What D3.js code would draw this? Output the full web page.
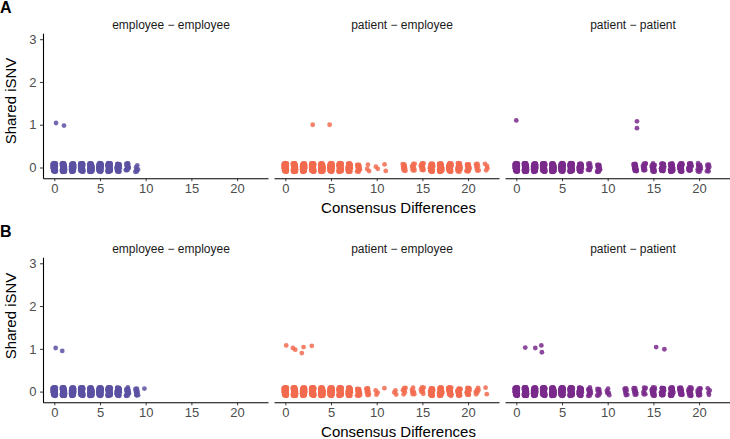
<!DOCTYPE html>
<html>
<head>
<meta charset="utf-8">
<script src="https://cdn.jsdelivr.net/npm/d3@7"></script>
<style>
  body { margin: 0; background: #fff; }
  svg { font-family: "Liberation Sans", Arial, sans-serif; }
  .axis path, .axis line { stroke: #000; }
  .axis line { stroke: #333; }
  .axis text { fill: #4d4d4d; font-size: 13px; }
</style>
</head>
<body>
<svg width="730" height="439"></svg>
<script>
// facets + colours
var facets = ["employee \u2212 employee", "patient \u2212 employee", "patient \u2212 patient"];
var facetColors = ["#5b51a2", "#f26b4f", "#792a8b"];
var xTicks = [0, 5, 10, 15, 20];
var yTicks = [0, 1, 2, 3];

// consensus differences (x) and number of pairs with 0 shared iSNV at each
var consensusDiff = [0, 1, 2, 3, 4, 5, 6, 7, 8, 9, 10, 11, 12, 13, 14, 15, 16, 17, 18, 19, 20, 21, 22];

var zeroA_empEmp = [70, 70, 70, 70, 70, 70, 70, 36, 12, 6, 0, 0, 0, 0, 0, 0, 0, 0, 0, 0, 0, 0, 0];
var zeroA_patEmp = [70, 70, 70, 70, 70, 70, 70, 50, 14, 3, 2, 2, 0, 10, 8, 12, 40, 50, 50, 24, 16, 7, 4];
var zeroA_patPat = [70, 70, 70, 70, 70, 70, 70, 40, 9, 14, 0, 0, 0, 22, 12, 18, 30, 45, 40, 20, 15, 7, 0];

var zeroB_empEmp = [70, 70, 70, 70, 70, 70, 70, 45, 16, 9, 1, 0, 0, 0, 0, 0, 0, 0, 0, 0, 0, 0, 0];
var zeroB_patEmp = [70, 70, 70, 70, 70, 70, 70, 50, 16, 9, 3, 1, 3, 6, 6, 7, 30, 40, 34, 20, 13, 6, 2];
var zeroB_patPat = [70, 70, 70, 70, 70, 70, 70, 45, 12, 7, 5, 0, 7, 9, 6, 22, 26, 34, 22, 20, 13, 4, 0];

// points with shared iSNV > 0, [consensus diff, shared iSNV] as plotted (jittered)
var sharedA_empEmp = [[0.19, 1.04], [1.06, 0.98]];
var sharedA_patEmp = [[3.0, 1.0], [4.85, 1.0]];
var sharedA_patPat = [[0.0, 1.1], [13.2, 1.08], [13.2, 0.92]];

var sharedB_empEmp = [[0.15, 1.02], [0.87, 0.95]];
var sharedB_patEmp = [[0.1, 1.08], [0.83, 1.02], [1.09, 0.98], [1.81, 0.9], [2.0, 1.04], [2.9, 1.07]];
var sharedB_patPat = [[0.98, 1.03], [2.08, 1.02], [2.74, 1.08], [2.8, 0.92], [15.3, 1.04], [16.2, 0.99]];

var rows = [
  { label: "A", top: 33.2, zero: [zeroA_empEmp, zeroA_patEmp, zeroA_patPat], shared: [sharedA_empEmp, sharedA_patEmp, sharedA_patPat], titleY: 101 },
  { label: "B", top: 257.3, zero: [zeroB_empEmp, zeroB_patEmp, zeroB_patPat], shared: [sharedB_empEmp, sharedB_patEmp, sharedB_patPat], titleY: 316 }
];

var svg = d3.select("svg");
var panelLeft = 43, panelW = 225, panelGap = 6, panelH = 145;

var x = d3.scaleLinear().domain([-1.236, 23.38]).range([0, panelW]);
var y = d3.scaleLinear().domain([-0.25, 3.14]).range([panelH, 0]);

// deterministic jitter offsets (like geom_jitter), in [-0.5, 0.5)
function jit(k, a) { return ((k * a + 0.37) % 1) - 0.5; }

rows.forEach(function(row, r) {
  // panel tag
  svg.append("text")
    .attr("x", 0)
    .attr("y", row.top - 20.5)
    .attr("font-size", "16px")
    .attr("font-weight", "bold")
    .attr("fill", "#000")
    .text(row.label);

  facets.forEach(function(name, f) {
    var g = svg.append("g")
      .attr("transform", "translate(" + (panelLeft + f * (panelW + panelGap)) + "," + row.top + ")");

    // strip label
    g.append("text")
      .attr("x", 128)
      .attr("y", -4.5)
      .attr("text-anchor", "middle")
      .attr("font-size", "12px")
      .attr("fill", "#1a1a1a")
      .text(name);

    // jittered points at 0 shared iSNV
    var pts = [];
    var k = 0;
    consensusDiff.forEach(function(cd, i) {
      for (var n = 0; n < row.zero[f][i]; n++) {
        k++;
        pts.push([cd + 0.34 * jit(k, 0.6180339), 0.2 * jit(k, 0.7548776)]);
      }
    });
    row.shared[f].forEach(function(p) { pts.push(p); });

    g.append("g").selectAll("circle")
      .data(pts)
      .enter().append("circle")
      .attr("cx", function(d) { return x(d[0]); })
      .attr("cy", function(d) { return y(d[1]); })
      .attr("r", 2.4)
      .attr("fill", facetColors[f])
      .attr("fill-opacity", 0.85);

    // x axis
    g.append("g")
      .attr("class", "axis")
      .attr("transform", "translate(0," + panelH + ")")
      .call(d3.axisBottom(x).tickValues(xTicks).tickSize(3).tickPadding(2.5).tickSizeOuter(0))
      .call(function(a) { a.select(".domain").attr("stroke-width", 1.1); });

    // y axis only on the first facet
    if (f === 0) {
      g.append("g")
        .attr("class", "axis")
        .call(d3.axisLeft(y).tickValues(yTicks).tickFormat(d3.format("d")).tickSize(3).tickPadding(3.5).tickSizeOuter(0))
        .call(function(a) { a.select(".domain").attr("stroke-width", 1.1); });
    }
  });

  // axis titles
  svg.append("text")
    .attr("x", 398.5)
    .attr("y", row.top + panelH + 35)
    .attr("text-anchor", "middle")
    .attr("font-size", "15px")
    .attr("fill", "#000")
    .text("Consensus Differences");

  svg.append("text")
    .attr("transform", "translate(15.5," + row.titleY + ")rotate(-90)")
    .attr("text-anchor", "middle")
    .attr("font-size", "15px")
    .attr("fill", "#000")
    .text("Shared iSNV");
});
</script>
</body>
</html>
